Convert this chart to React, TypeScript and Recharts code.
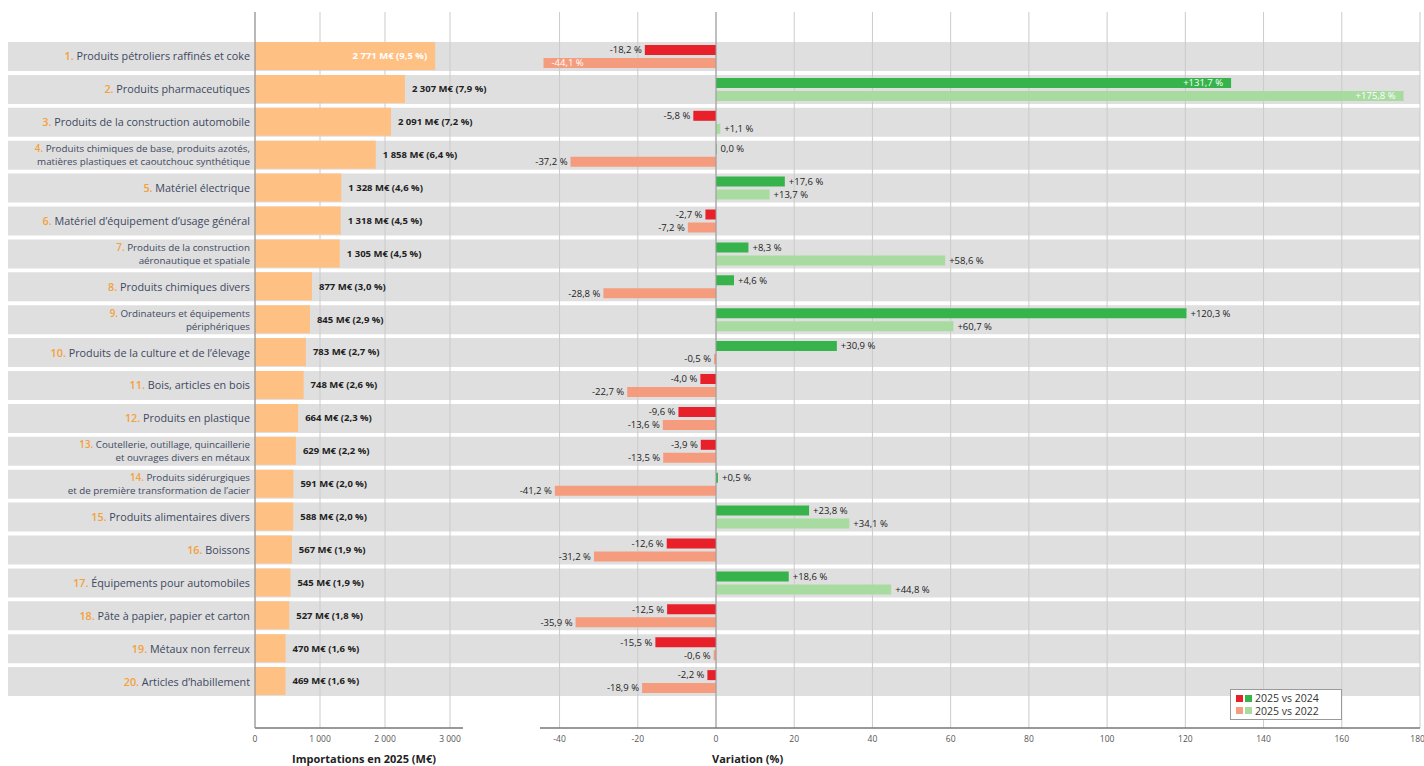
import React from 'react';
import {
  BarChart,
  Bar,
  XAxis,
  YAxis,
  CartesianGrid,
  ReferenceLine,
  LabelList,
  Cell,
  Legend,
} from 'recharts';

// ---------- DATA ----------
const categories: string[] = [
  'Produits pétroliers raffinés et coke',
  'Produits pharmaceutiques',
  'Produits de la construction automobile',
  'Produits chimiques de base, produits azotés,\nmatières plastiques et caoutchouc synthétique',
  'Matériel électrique',
  'Matériel d’équipement d’usage général',
  'Produits de la construction\naéronautique et spatiale',
  'Produits chimiques divers',
  'Ordinateurs et équipements\npériphériques',
  'Produits de la culture et de l’élevage',
  'Bois, articles en bois',
  'Produits en plastique',
  'Coutellerie, outillage, quincaillerie\net ouvrages divers en métaux',
  'Produits sidérurgiques\net de première transformation de l’acier',
  'Produits alimentaires divers',
  'Boissons',
  'Équipements pour automobiles',
  'Pâte à papier, papier et carton',
  'Métaux non ferreux',
  'Articles d’habillement',
];

const imports2025: number[] = [2771, 2307, 2091, 1858, 1328, 1318, 1305, 877, 845, 783, 748, 664, 629, 591, 588, 567, 545, 527, 470, 469];
const importShares: string[] = ['9,5', '7,9', '7,2', '6,4', '4,6', '4,5', '4,5', '3,0', '2,9', '2,7', '2,6', '2,3', '2,2', '2,0', '2,0', '1,9', '1,9', '1,8', '1,6', '1,6'];

const var2024: number[] = [-18.2, 131.7, -5.8, 0.0, 17.6, -2.7, 8.3, 4.6, 120.3, 30.9, -4.0, -9.6, -3.9, 0.5, 23.8, -12.6, 18.6, -12.5, -15.5, -2.2];
const var2022: number[] = [-44.1, 175.8, 1.1, -37.2, 13.7, -7.2, 58.6, -28.8, 60.7, -0.5, -22.7, -13.6, -13.5, -41.2, 34.1, -31.2, 44.8, -35.9, -0.6, -18.9];

const importTicks: number[] = [0, 1000, 2000, 3000];
const variationTicks: number[] = [-40, -20, 0, 20, 40, 60, 80, 100, 120, 140, 160, 180];

const seriesOrder = ['v24', 'v22'];
const seriesNames: Record<string, string> = { v24: '2025 vs 2024', v22: '2025 vs 2022' };

// ---------- STYLE ----------
const C = {
  band: '#dfdfdf',
  grid: '#cbcbcb',
  axis: '#8a8a8a',
  orange: '#ffc083',
  rank: '#f5a03a',
  label: '#3e4860',
  neg24: '#e8202a',
  pos24: '#36b44b',
  neg22: '#f59c7e',
  pos22: '#a8dba0',
};
const legendColors: Record<string, [string, string]> = {
  v24: [C.neg24, C.pos24],
  v22: [C.neg22, C.pos22],
};
const FONT = "'Open Sans', 'Noto Sans', sans-serif";
const W = 1424;
const H = 766;
const MARGIN_TOP = 12;
const AXIS_H = 38;
const Y_PAD = { top: 28, bottom: 30 };

const data = categories.map((name, i) => ({
  name,
  imports: imports2025[i],
  share: importShares[i],
  v24: var2024[i],
  v22: var2022[i],
}));

const fmtThousands = (n: number) => String(n).replace(/\B(?=(\d{3})+(?!\d))/g, '\u00a0');
const fmtPct = (v: number) => {
  const s = Math.abs(v).toFixed(1).replace('.', ',');
  if (v > 0) return `+${s} %`;
  if (v < 0) return `-${s} %`;
  return `${s} %`;
};

const getBox = (props: any) => {
  const vb = props.viewBox || {};
  const x = Number(vb.x ?? props.x ?? 0);
  const y = Number(vb.y ?? props.y ?? 0);
  const w = Number(vb.width ?? props.width ?? 0);
  const h = Number(vb.height ?? props.height ?? 0);
  return { left: Math.min(x, x + w), right: Math.max(x, x + w), cy: y + h / 2 };
};

// ---------- RENDERERS ----------
const CategoryTick = (props: any) => {
  const { x, y, payload } = props;
  const name: string = payload?.value ?? '';
  const rank = categories.indexOf(name) + 1;
  const lines = name.split('\n');
  const twoLines = lines.length > 1;
  const baselines = twoLines ? [-3, 10] : [4];
  return (
    <g>
      {lines.map((line, li) => (
        <text
          key={li}
          x={x}
          y={y + baselines[li]}
          textAnchor="end"
          fontSize={twoLines ? 9.8 : 10.8}
          fontFamily={FONT}
          fill={C.label}
        >
          {li === 0 ? (
            <tspan fill={C.rank} fontWeight={600}>{`${rank}. `}</tspan>
          ) : null}
          <tspan>{line}</tspan>
        </text>
      ))}
    </g>
  );
};

const ImportLabel = (props: any) => {
  const idx = Number(props.index);
  const v = typeof props.value === 'number' ? props.value : imports2025[idx];
  const { right, cy } = getBox(props);
  const txt = `${fmtThousands(v)} M€ (${importShares[imports2025.indexOf(v)] ?? importShares[idx]} %)`;
  const inside = v > 2500;
  return (
    <text
      x={inside ? right - 8 : right + 7}
      y={cy}
      dy="0.35em"
      textAnchor={inside ? 'end' : 'start'}
      fontSize={9.5}
      fontWeight={700}
      fontFamily={FONT}
      fill={inside ? '#ffffff' : '#222222'}
    >
      {txt}
    </text>
  );
};

const makeVarLabel = (series: number[]) => (props: any) => {
  const idx = Number(props.index);
  const v = typeof props.value === 'number' ? props.value : series[idx];
  const { left, right, cy } = getBox(props);
  const inside = v > 130 || v < -42;
  let tx = 0;
  let anchor: 'start' | 'end' = 'start';
  let fill = '#222222';
  if (v < 0) {
    if (inside) { tx = left + 8; anchor = 'start'; fill = '#ffffff'; }
    else { tx = left - 3; anchor = 'end'; }
  } else {
    if (inside) { tx = right - 8; anchor = 'end'; fill = '#ffffff'; }
    else { tx = right + 4; anchor = 'start'; }
  }
  return (
    <text x={tx} y={cy} dy="0.35em" textAnchor={anchor} fontSize={9.5} fontFamily={FONT} fill={fill}>
      {fmtPct(v)}
    </text>
  );
};

const LegendBox = (props: any) => {
  const payload = [...(props.payload || [])].sort(
    (a: any, b: any) => seriesOrder.indexOf(String(a.dataKey)) - seriesOrder.indexOf(String(b.dataKey)),
  );
  return (
    <div
      style={{
        background: '#ffffff',
        border: '1px solid #9a9a9a',
        padding: '2px 5px',
        fontFamily: FONT,
        fontSize: 10.5,
        lineHeight: '12.5px',
        color: '#333',
        boxSizing: 'border-box',
      }}
    >
      {payload.map((p: any) => {
        const cols = legendColors[String(p.dataKey)] || [p.color, p.color];
        return (
          <div key={String(p.dataKey)} style={{ display: 'flex', alignItems: 'center', whiteSpace: 'nowrap' }}>
            <span style={{ width: 7, height: 7, background: cols[0], display: 'inline-block', marginRight: 2 }} />
            <span style={{ width: 7, height: 7, background: cols[1], display: 'inline-block', marginRight: 3 }} />
            <span>{p.value}</span>
          </div>
        );
      })}
    </div>
  );
};

const tickStyle = { fontSize: 8.5, fill: '#555', fontFamily: FONT };
const titleStyle = { fontSize: 11, fontWeight: 700, fill: '#222', fontFamily: FONT };

export default function App() {
  return (
    <div style={{ position: 'relative', width: W, height: H, overflow: 'hidden', background: '#fff' }}>
      <style>{'body{margin:0;background:#fff;}'}</style>

      {/* Row bands (one background slot per category) */}
      <div style={{ position: 'absolute', left: 0, top: 0 }}>
        <BarChart
          width={W}
          height={H}
          data={data}
          layout="vertical"
          barCategoryGap={2}
          margin={{ top: MARGIN_TOP, right: 4, bottom: AXIS_H, left: 8 }}
        >
          <XAxis type="number" hide domain={[0, 3200]} />
          <YAxis type="category" dataKey="name" hide padding={Y_PAD} />
          <Bar
            dataKey="imports"
            fill="transparent"
            background={{ fill: C.band }}
            isAnimationActive={false}
          />
        </BarChart>
      </div>

      {/* Left panel: imports */}
      <div style={{ position: 'absolute', left: 0, top: 0 }}>
        <BarChart
          width={540}
          height={H}
          data={data}
          layout="vertical"
          margin={{ top: MARGIN_TOP, right: 77, bottom: 0, left: 0 }}
        >
          <CartesianGrid horizontal={false} stroke={C.grid} verticalValues={importTicks} />
          <XAxis
            type="number"
            domain={[0, 3200]}
            ticks={importTicks}
            tickFormatter={(v: number) => fmtThousands(v)}
            tick={tickStyle}
            tickLine={false}
            axisLine={{ stroke: '#777', strokeWidth: 1.5 }}
            height={AXIS_H}
            label={{
              value: 'Importations en 2025 (M€)',
              position: 'insideBottom',
              offset: 3,
              dx: 5,
              style: titleStyle,
            }}
          />
          <YAxis
            type="category"
            dataKey="name"
            width={255}
            padding={Y_PAD}
            interval={0}
            tickLine={false}
            tickSize={0}
            tickMargin={5}
            axisLine={{ stroke: C.axis }}
            tick={(p: any) => <CategoryTick {...p} />}
          />
          <Bar dataKey="imports" fill={C.orange} barSize={28} isAnimationActive={false}>
            <LabelList dataKey="imports" content={(p: any) => <ImportLabel {...p} />} />
          </Bar>
        </BarChart>
      </div>

      {/* Right panel: variations */}
      <div style={{ position: 'absolute', left: 470, top: 0 }}>
        <BarChart
          width={954}
          height={H}
          data={data}
          layout="vertical"
          barGap={3}
          margin={{ top: MARGIN_TOP, right: 4, bottom: 0, left: 70 }}
        >
          <CartesianGrid horizontal={false} stroke={C.grid} verticalValues={variationTicks} />
          <XAxis
            type="number"
            domain={[-45, 180]}
            ticks={variationTicks}
            tick={tickStyle}
            tickLine={false}
            axisLine={{ stroke: '#777', strokeWidth: 1.5 }}
            height={AXIS_H}
            label={{
              value: 'Variation (%)',
              position: 'insideBottomLeft',
              offset: 3,
              dx: 169,
              style: titleStyle,
            }}
          />
          <YAxis type="category" dataKey="name" hide padding={Y_PAD} />
          <ReferenceLine x={0} stroke="#9a9a9a" strokeWidth={1} />
          <Bar
            dataKey="v24"
            name={seriesNames.v24}
            fill={C.neg24}
            barSize={10}
            minPointSize={0.5}
            isAnimationActive={false}
          >
            {data.map((d, i) => (
              <Cell key={i} fill={d.v24 < 0 ? C.neg24 : C.pos24} />
            ))}
            <LabelList dataKey="v24" content={makeVarLabel(var2024)} />
          </Bar>
          <Bar
            dataKey="v22"
            name={seriesNames.v22}
            fill={C.neg22}
            barSize={10}
            minPointSize={0.5}
            isAnimationActive={false}
          >
            {data.map((d, i) => (
              <Cell key={i} fill={d.v22 < 0 ? C.neg22 : C.pos22} />
            ))}
            <LabelList dataKey="v22" content={makeVarLabel(var2022)} />
          </Bar>
          <Legend
            layout="horizontal"
            verticalAlign="middle"
            align="center"
            content={(p: any) => <LegendBox {...p} />}
            wrapperStyle={{ left: 760, top: 689, width: 112, height: 31 }}
          />
        </BarChart>
      </div>
    </div>
  );
}
